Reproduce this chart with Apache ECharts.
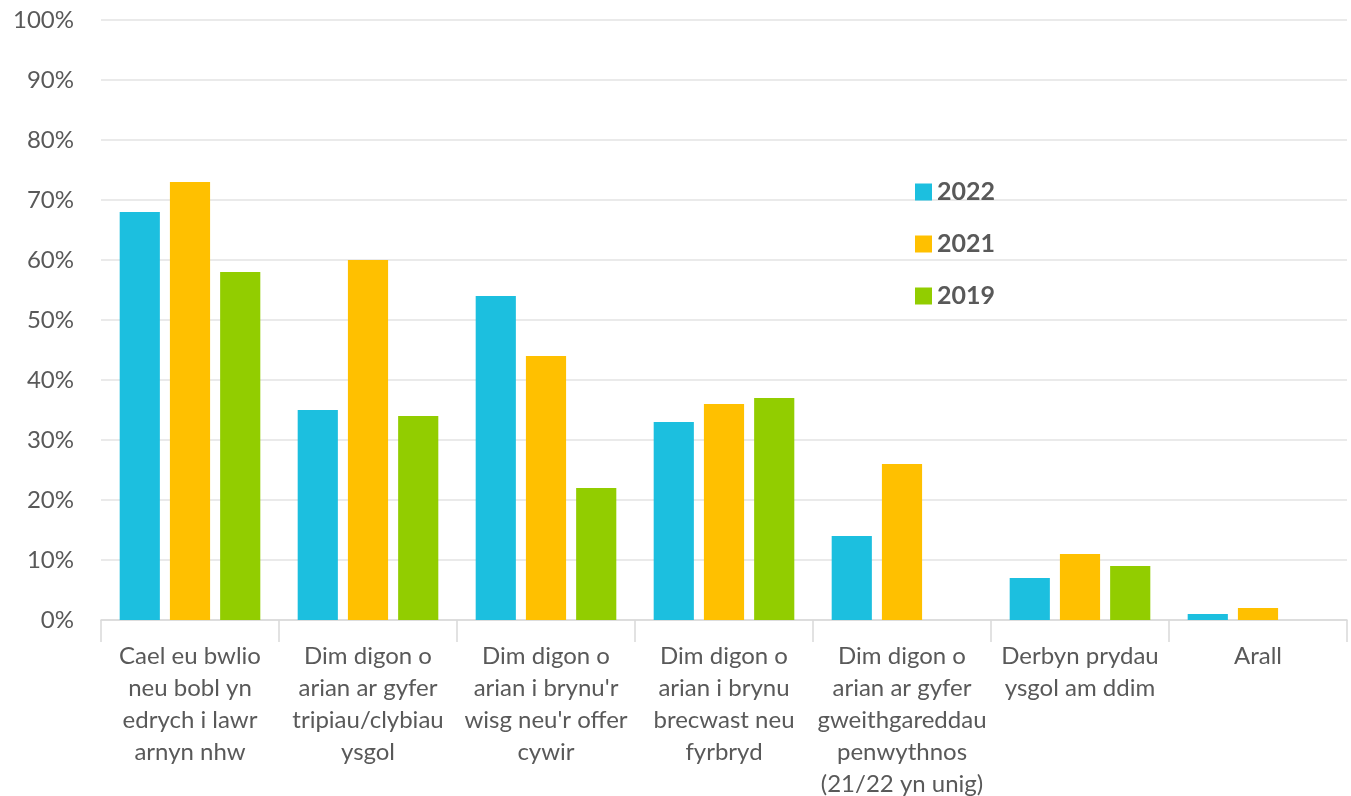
<!DOCTYPE html>
<html>
<head>
<meta charset="utf-8">
<script src="https://cdn.jsdelivr.net/npm/echarts@6/dist/echarts.min.js"></script>
<style>
  html, body { margin: 0; padding: 0; background: #fff; }
  #main { width: 1351px; height: 796px; }
</style>
</head>
<body>
<div id="main"></div>
<script>
const categories = [
  "Cael eu bwlio\nneu bobl yn\nedrych i lawr\narnyn nhw",
  "Dim digon o\narian ar gyfer\ntripiau/clybiau\nysgol",
  "Dim digon o\narian i brynu'r\nwisg neu'r offer\ncywir",
  "Dim digon o\narian i brynu\nbrecwast neu\nfyrbryd",
  "Dim digon o\narian ar gyfer\ngweithgareddau\npenwythnos\n(21/22 yn unig)",
  "Derbyn prydau\nysgol am ddim",
  "Arall",
];
const values2022 = [68, 35, 54, 33, 14, 7, 1];
const values2021 = [73, 60, 44, 36, 26, 11, 2];
const values2019 = [58, 34, 22, 37, null, 9, null];

var chart = echarts.init(document.getElementById("main"));
var font = "Lato, 'Open Sans', sans-serif";
var option = {
  animation: false,
  textStyle: { fontFamily: font },
  grid: { left: 101, right: 4, top: 20, bottom: 176, containLabel: false, outerBoundsMode: "none" },
  legend: {
    orient: "vertical",
    left: 910,
    top: 174,
    itemWidth: 17,
    itemHeight: 17,
    itemGap: 26,
    icon: "rect",
    textStyle: { fontSize: 25, lineHeight: 26, fontWeight: "bold", color: "#595959", fontFamily: font },
    data: ["2022", "2021", "2019"],
  },
  xAxis: {
    type: "category",
    data: categories,
    axisLine: { lineStyle: { color: "#d9d9d9", width: 1.5 } },
    axisTick: { show: true, length: 22, lineStyle: { color: "#d9d9d9", width: 1.5 } },
    axisLabel: { interval: 0, color: "#595959", fontSize: 24, lineHeight: 32, margin: 20 },
  },
  yAxis: {
    type: "value",
    min: 0,
    max: 100,
    interval: 10,
    axisLine: { show: false },
    axisTick: { show: false },
    splitLine: { lineStyle: { color: "#e3e3e3", width: 1.5 } },
    axisLabel: { formatter: "{value}%", color: "#595959", fontSize: 24, margin: 27 },
  },
  series: [
    { name: "2022", type: "bar", data: values2022, itemStyle: { color: "#1CBFDF" }, barGap: "25%", barCategoryGap: "21%" },
    { name: "2021", type: "bar", data: values2021, itemStyle: { color: "#FFC000" } },
    { name: "2019", type: "bar", data: values2019, itemStyle: { color: "#92CD00" } },
  ],
};
chart.setOption(option);
</script>
</body>
</html>
